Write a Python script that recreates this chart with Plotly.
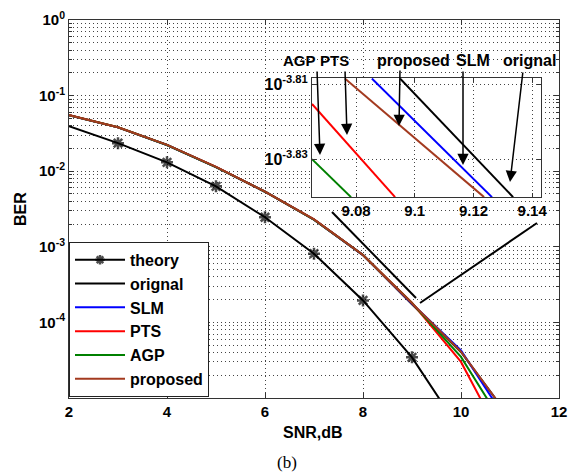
import plotly.graph_objects as go

# ---------------- data ----------------
snr_theory = [2, 3, 4, 5, 6, 7, 8, 9, 10]
ber_theory = [0.0394, 0.0235, 0.0131, 0.0063, 0.00246, 0.00081, 1.95e-4, 3.45e-5, 3.6e-6]

snr_sim = [2, 3, 4, 5, 6, 7, 8, 9, 10, 11]
ber_orignal = [0.0550, 0.0380, 0.0222, 0.0113, 0.00535, 0.00229, 7.76e-4, 1.74e-4, 4.07e-5, 5.4e-6]
ber_slm = [0.0550, 0.0380, 0.0222, 0.0113, 0.00535, 0.00229, 7.76e-4, 1.76e-4, 4.27e-5, 4.3e-6]
ber_pts = [0.0555, 0.0382, 0.0223, 0.0114, 0.00537, 0.00230, 7.80e-4, 1.82e-4, 3.0e-5, 1.8e-6]
ber_agp = [0.0552, 0.0381, 0.0222, 0.0113, 0.00535, 0.00229, 7.78e-4, 1.80e-4, 3.5e-5, 3.2e-6]
ber_proposed = [0.0552, 0.0381, 0.0223, 0.0114, 0.00536, 0.00230, 7.78e-4, 1.78e-4, 4.1e-5, 5.4e-6]

# zoomed inset (SNR around 9.1 dB)
inset_snr_orignal = [9.0950, 9.1335]
inset_ber_orignal = [1.554e-4, 1.445e-4]
inset_snr_slm = [9.0854, 9.1263]
inset_ber_slm = [1.554e-4, 1.445e-4]
inset_snr_proposed = [9.0762, 9.1236]
inset_ber_proposed = [1.554e-4, 1.445e-4]
inset_snr_pts = [9.0650, 9.0933]
inset_ber_pts = [1.530e-4, 1.445e-4]
inset_snr_agp = [9.0650, 9.0783]
inset_ber_agp = [1.479e-4, 1.445e-4]

x_ticks = [2, 4, 6, 8, 10, 12]
y_ticks = [1e-5, 1e-4, 1e-3, 1e-2, 1e-1, 1e0]
y_ticktext = [" ", "10<sup>-4</sup>", "10<sup>-3</sup>", "10<sup>-2</sup>", "10<sup>-1</sup>", "10<sup>0</sup>"]
inset_x_ticks = [9.08, 9.1, 9.12, 9.14]
inset_x_ticktext = ["9.08", "9.1", "9.12", "9.14"]
inset_y_ticks = [10 ** -3.81, 10 ** -3.83]
inset_y_ticktext = ["10<sup>-3.81</sup>", "10<sup>-3.83</sup>"]

names = ["orignal", "SLM", "PTS", "AGP", "proposed"]
colors = ["#000000", "#0000ff", "#ff0000", "#008000", "#a33a1f"]

# ---------------- figure ----------------
W, H = 568, 472
L, R, T, B = 69, 9, 20, 74
PW, PH = W - L - R, H - T - B


def px(xp):
    return (xp - L) / PW


def py(yp):
    return (H - B - yp) / PH


BOLD = dict(family="Arial, Liberation Sans, sans-serif", color="black", weight="bold")

fig = go.Figure()

fig.add_trace(go.Scatter(
    x=snr_theory, y=ber_theory, name="theory", mode="lines+markers",
    line=dict(color="black", width=2),
    marker=dict(symbol="asterisk-open", size=[0, 10, 10, 10, 10, 10, 10, 10, 0],
                line=dict(color="black", width=2.5)),
))

main_series = [ber_orignal, ber_slm, ber_pts, ber_agp, ber_proposed]
for nm, c, ys in zip(names, colors, main_series):
    fig.add_trace(go.Scatter(x=snr_sim, y=ys, name=nm, mode="lines",
                             line=dict(color=c, width=2)))

inset_series = [
    (inset_snr_orignal, inset_ber_orignal),
    (inset_snr_slm, inset_ber_slm),
    (inset_snr_pts, inset_ber_pts),
    (inset_snr_agp, inset_ber_agp),
    (inset_snr_proposed, inset_ber_proposed),
]
for nm, c, (xs, ys) in zip(names, colors, inset_series):
    fig.add_trace(go.Scatter(x=xs, y=ys, name=nm, mode="lines", showlegend=False,
                             line=dict(color=c, width=2), xaxis="x2", yaxis="y2"))

minor_y = [k * 10.0 ** e for e in range(-5, 0) for k in range(2, 10)]

DOT = "1px,3px"
grid = dict(showgrid=True, gridcolor="#444", gridwidth=1, griddash=DOT)
common = dict(ticks="inside", tickcolor="#333", showline=True, linecolor="#333",
              linewidth=1, mirror="ticks", zeroline=False, automargin=False)

fig.update_layout(
    width=W, height=H, autosize=False,
    margin=dict(l=L, r=R, t=T, b=B, autoexpand=False),
    paper_bgcolor="white", plot_bgcolor="white",
    xaxis=dict(range=[2, 12], tickmode="array", tickvals=x_ticks, ticklen=5,
               tickfont=dict(size=15, **BOLD), **common, **grid),
    yaxis=dict(type="log", range=[-5, 0], tickmode="array", tickvals=y_ticks,
               ticktext=y_ticktext, ticklen=5,
               tickfont=dict(size=15, **BOLD),
               minor=dict(tickmode="array", tickvals=minor_y, ticks="inside", ticklen=3,
                          tickcolor="#333", showgrid=True, gridcolor="#444",
                          griddash=DOT, gridwidth=1),
               **common, **grid),
    xaxis2=dict(domain=[px(312), px(541)], anchor="y2", range=[9.065, 9.143],
                tickmode="array", tickvals=inset_x_ticks, ticktext=inset_x_ticktext,
                ticklen=4, tickfont=dict(size=15, **BOLD), **common, **grid),
    yaxis2=dict(domain=[py(197), py(78)], anchor="x2", type="log",
                range=[-3.8401, -3.8084], tickmode="array", tickvals=inset_y_ticks,
                ticktext=inset_y_ticktext, ticklen=4,
                tickfont=dict(size=16, **BOLD), **common, **grid),
    legend=dict(x=0, y=0.003, xanchor="left", yanchor="bottom",
                bgcolor="white", bordercolor="#222", borderwidth=1,
                font=dict(size=16, **BOLD), itemwidth=50, tracegroupgap=0),
    showlegend=True,
)

annotations = [
    dict(text="BER", x=px(20), y=py(209), textangle=-90, font=dict(size=16, **BOLD)),
    dict(text="SNR,dB", x=px(313), y=py(432), font=dict(size=16, **BOLD)),
    dict(text="(b)", x=px(287), y=py(463),
         font=dict(size=17, family="Times New Roman, Liberation Serif, serif", color="black")),
]
label_pos = [("AGP", 299, 15), ("PTS", 334, 15), ("proposed", 413, 16),
             ("SLM", 473, 16), ("orignal", 529, 16)]
for t, xc, fs in label_pos:
    annotations.append(dict(text=t, x=px(xc), y=py(60), font=dict(size=fs, **BOLD)))
for a in annotations:
    a.update(xref="paper", yref="paper", showarrow=False, xanchor="center", yanchor="middle")

# arrows (tip, tail) in pixels
arrows = [((320, 155), (317, 70)), ((347, 135), (345, 70)), ((399, 126), (400, 69)),
          ((463, 165), (463, 70)), ((510, 182), (523, 71))]
for (tx, ty), (sx, sy) in arrows:
    annotations.append(dict(x=px(tx), y=py(ty), xref="paper", yref="paper", text="",
                            showarrow=True, ax=sx - tx, ay=sy - ty, arrowhead=2,
                            arrowsize=1.5, arrowwidth=1.5, arrowcolor="black", standoff=0))
fig.update_layout(annotations=annotations)

pointer_lines = [((332, 212), (416, 298)), ((537, 223), (420, 303))]
for (x0, y0), (x1, y1) in pointer_lines:
    fig.add_shape(type="line", xref="paper", yref="paper", x0=px(x0), y0=py(y0),
                  x1=px(x1), y1=py(y1), line=dict(color="black", width=2))

fig.write_html("out.html", config={"displayModeBar": False},
               post_script="document.body.style.margin='0';document.body.style.padding='0';")
